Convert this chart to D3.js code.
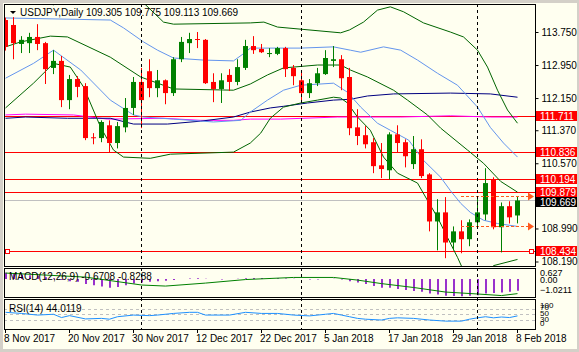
<!DOCTYPE html>
<html>
<head>
<meta charset="utf-8">
<script src="https://cdn.jsdelivr.net/npm/d3@7"></script>
<style>
html, body { margin: 0; padding: 0; background: #d4d0c8; }
svg { display: block; font-family: "Liberation Sans", Arial, sans-serif; font-size: 10px; }
</style>
</head>
<body>
<div id="container"></div>
<script>
// --- data ---
const symbol = "USDJPY,Daily";
const dateTicks = [0, 8, 16, 24, 32, 40, 48, 56, 64];
const dateLabels = ["8 Nov 2017", "20 Nov 2017", "30 Nov 2017", "12 Dec 2017", "22 Dec 2017",
                    "5 Jan 2018", "17 Jan 2018", "29 Jan 2018", "8 Feb 2018"];

const open  = [114.04,113.92,113.46,113.48,113.63,113.48,112.88,113.05,112.10,112.61,
               112.44,111.20,111.18,111.49,111.06,111.44,111.91,112.54,112.80,112.39,
               112.58,112.27,113.09,113.48,113.58,113.56,112.54,112.37,112.71,112.54,
               112.88,113.41,113.34,113.22,113.22,113.36,112.88,112.58,112.27,112.51,
               112.73,113.05,113.09,112.66,111.44,111.25,111.08,110.52,110.40,111.27,
               111.08,110.55,110.91,110.30,109.16,109.38,108.65,108.92,108.73,109.14,
               109.33,110.18,109.02,109.53,109.305];
const high  = [114.10,114.11,113.65,113.73,113.94,113.51,113.31,113.17,112.71,112.68,
               112.51,111.30,111.61,111.61,111.57,112.15,112.66,112.88,113.09,112.83,
               112.60,113.14,113.63,113.73,113.75,113.58,112.75,112.75,112.85,113.09,
               113.56,113.65,113.46,113.36,113.39,113.39,112.95,112.80,112.61,112.88,
               113.31,113.41,113.19,112.88,111.88,111.47,111.18,111.06,111.32,111.49,
               111.15,111.23,111.15,110.33,109.70,109.75,109.04,109.19,109.21,109.75,
               110.45,110.23,109.62,109.65,109.775];
const low   = [113.30,113.09,113.24,113.24,113.31,112.49,112.73,111.93,111.88,112.17,
               111.13,111.03,111.08,110.84,110.93,111.32,111.74,111.42,112.17,112.17,
               112.00,112.20,113.02,113.24,113.36,112.49,112.05,112.03,112.32,112.46,
               112.83,113.22,113.24,113.14,113.19,112.66,112.46,112.03,112.15,112.44,
               112.71,112.90,112.34,111.25,111.01,110.93,110.33,110.21,110.18,110.84,
               110.47,110.43,110.21,108.92,108.46,108.27,108.46,108.39,108.56,109.04,
               109.19,108.97,108.41,109.11,109.113];
const close = [113.39,113.48,113.56,113.63,113.46,112.85,113.05,112.10,112.61,112.42,
               111.18,111.18,111.57,111.06,111.47,111.91,112.54,112.10,112.39,112.58,
               112.27,113.09,113.51,113.58,113.56,112.51,112.37,112.58,112.54,112.90,
               113.41,113.31,113.26,113.24,113.36,112.85,112.68,112.27,112.51,112.75,
               113.12,113.09,112.63,111.42,111.23,111.03,110.50,110.43,111.27,111.06,
               110.74,110.91,110.26,109.16,109.38,108.65,108.92,108.73,109.14,109.38,
               110.09,109.02,109.53,109.26,109.669];

const separators = [17, 37, 59];
const priceTicks = [113.75, 112.95, 112.15, 111.37, 110.57, 108.99, 108.19];
const redLevels = [111.711, 110.836, 110.194, 109.879, 108.434];
const bidLevel = 109.669;
const arrowLevels = [109.775, 109.06];
const arrowStart = 57;

// indicator lines as [bar, price] points
const bbGreenUpper = [[0,114.65],[6,114.41],[10,114.72],[15,114.65],[17.5,114.41],[19.75,113.99],[21,113.94],
  [30.6,113.97],[32.3,113.99],[34,113.87],[41.9,113.73],[43,113.80],[44.75,113.99],[46.5,114.28],[48.1,114.36],
  [49.75,114.24],[52.25,113.97],[55.6,113.75],[57.25,113.63],[59,113.31],[60.25,112.90],[61.5,112.34],
  [62.75,111.86],[64,111.54]];
const bbGreenMid = [[0,113.39],[1.9,113.51],[5.6,113.65],[7.75,113.63],[13.1,113.14],[16.9,112.66],[21,112.37],
  [28.5,112.34],[30.6,112.49],[32.75,112.71],[34.75,112.88],[39,112.95],[41.9,112.95],[43.1,112.83],[45.25,112.66],
  [48.5,112.34],[50.25,112.10],[52.75,111.74],[54.4,111.42],[57.75,110.89],[59.75,110.57],[61.9,110.13],[64,109.87]];
const bbGreenLower = [[0,111.91],[3.5,112.51],[6,112.99],[8.1,112.90],[9.75,112.42],[11.9,111.44],[13.5,110.89],
  [14.75,110.72],[18.1,110.69],[20.6,110.79],[28.5,110.84],[30.6,111.06],[31.9,111.30],[33.1,111.66],[34.75,111.93],
  [36.9,112.03],[39,112.10],[41,112.17],[41.9,112.15],[42.75,112.03],[44,111.69],[45.6,111.37],[47.25,110.72],
  [49,110.33],[51.5,110.09],[52.75,109.67],[54,109.26],[55.25,108.77],[56.5,108.29],[58.1,107.61],[59.75,107.73],
  [61,108.09],[64,108.24]];
const bbBlueUpper = [[0,114.09],[13.1,114.04],[14.75,113.85],[17.25,113.51],[19,113.31],[21,113.12],[24.75,113.07],
  [28.5,113.05],[30,113.26],[30.6,113.36],[36.9,113.36],[41,113.39],[43.1,113.31],[44.4,113.26],[47.25,113.39],
  [49.4,113.31],[51.5,113.07],[54,112.75],[56.5,112.46],[59,111.93],[60.6,111.44],[62.25,111.06],[64,110.72]];
const bbBlueLower = [[0,112.63],[3.5,112.99],[6,113.31],[9.4,112.83],[13.1,112.10],[16,111.74],[17.25,111.69],
  [21,111.64],[26,111.57],[29.4,111.61],[30.6,111.81],[32.75,112.10],[34.75,112.34],[36.9,112.46],[41,112.51],
  [42.75,112.29],[44.4,111.93],[46.5,111.54],[48.1,111.37],[50.4,111.13],[52.25,110.64],[54.4,110.23],
  [55.6,109.91],[56.9,109.60],[58.1,109.38],[59.75,109.19],[61.5,109.11],[64,109.04]];
const maNavy = [[0,111.66],[2.5,111.69],[7.75,111.66],[13.1,111.66],[16,111.52],[20.25,111.52],[24.4,111.59],
  [28.5,111.69],[30.6,111.81],[33.1,111.91],[34.75,111.95],[37.75,112.03],[41,112.10],[43.1,112.12],
  [45.25,112.20],[48.5,112.25],[55.6,112.27],[60.6,112.25],[64,112.17]];
const maMagenta = [[0,111.74],[2.5,111.76],[8.5,111.74],[12.75,111.64],[19.75,111.66],[24.4,111.61],
  [28.5,111.61],[30.6,111.64],[34.4,111.64],[41.5,111.69],[49.4,111.69],[55.6,111.72],[60.6,111.69],[64,111.69]];

const macdHist = [0.35,0.30,0.25,0.22,0.18,0.10,0.05,-0.05,-0.12,-0.15,
                  -0.28,-0.35,-0.42,-0.50,-0.45,-0.35,-0.25,-0.20,-0.15,-0.12,
                  -0.10,-0.05,0.00,0.03,0.05,0.02,0.00,-0.02,0.00,0.02,
                  0.05,0.06,0.06,0.05,0.05,0.03,0.02,0.00,-0.02,-0.02,
                  0.00,0.02,-0.02,-0.12,-0.20,-0.28,-0.40,-0.50,-0.50,-0.56,
                  -0.63,-0.68,-0.72,-0.82,-0.88,-0.95,-0.96,-0.98,-0.95,-0.92,
                  -0.82,-0.80,-0.76,-0.72,-0.6708];
const macdSignal = [[0,0.34],[10,0.11],[17,-0.34],[20,-0.40],[25,-0.23],[30,-0.03],[36,0.09],[41,0.09],
  [44,-0.06],[47,-0.26],[51,-0.48],[55,-0.74],[59,-0.85],[62,-0.94],[64,-0.8288]];
const macdAxis = [0.627, 0, -1.0211];

const rsi = [[0,57],[2,53],[4,47],[6,50],[7,38],[8,45],[10,33],[12,35],[13,32],[14,41],[16,47],[18,45],
  [19,47],[21,53],[23,57],[24,57],[25,47],[28,47],[30,57],[32,53],[34,53],[36,47],[38,44],[40,50],[41,53],
  [42,47],[43,41],[44,35],[45,32],[47,29],[48,35],[49,37],[51,35],[53,29],[55,25],[57,25],[58,32],[59,37],
  [60,41],[61,37],[62,40],[63,38],[64,44.0119]];
const rsiLevels = [70, 50, 30];
const rsiAxis = [100, 70, 50, 30, 0];

// --- layout ---
const W = 579, H = 352;
const L = 4, R = 535;
const main = {top: 4, bottom: 266};
const pMacd = {top: 268, bottom: 297};
const pRsi = {top: 299, bottom: 329};

const svg = d3.select("#container").append("svg")
    .attr("width", W).attr("height", H);

svg.append("rect").attr("width", W).attr("height", H).attr("fill", "#d4d0c8");
svg.append("rect").attr("x", 3).attr("y", 3).attr("width", W - 5).attr("height", H - 6).attr("fill", "#fffff0");

const x = d3.scaleLinear().domain([0, 64]).range([5, 517]);
const y = d3.scaleLinear().domain([108.19, 113.75]).range([261.5, 32]);
const yM = d3.scaleLinear().domain([-1.0211, 0.627]).range([pMacd.bottom, pMacd.top]);
const yR = d3.scaleLinear().domain([0, 100]).range([328, 300.5]);

const px = v => Math.round(v) + 0.5;

function addClip(id, p) {
    svg.append("clipPath").attr("id", id)
        .append("rect").attr("x", L + 1).attr("y", p.top + 1)
        .attr("width", R - L - 1).attr("height", p.bottom - p.top - 1);
}
addClip("clipMain", main);
addClip("clipMacd", pMacd);
addClip("clipRsi", pRsi);

const gMain = svg.append("g").attr("clip-path", "url(#clipMain)");

// horizontal levels
gMain.selectAll(".lvl").data(redLevels).join("line")
    .attr("x1", L).attr("x2", R)
    .attr("y1", d => px(y(d))).attr("y2", d => px(y(d)))
    .attr("stroke", "#ff0000").attr("stroke-width", 1);

gMain.append("line")
    .attr("x1", L).attr("x2", R)
    .attr("y1", px(y(bidLevel))).attr("y2", px(y(bidLevel)))
    .attr("stroke", "#c0c0c0");

// indicator lines
function addLine(g, data, col, sc) {
    g.append("path")
        .datum(data)
        .attr("fill", "none")
        .attr("stroke", col)
        .attr("stroke-width", 1)
        .attr("d", d3.line().x(d => x(d[0]) + 0.5).y(d => sc(d[1])));
}
addLine(gMain, maMagenta, "#ff00ff", y);
addLine(gMain, maNavy, "#000080", y);
addLine(gMain, bbBlueUpper, "#6495ed", y);
addLine(gMain, bbBlueLower, "#6495ed", y);
addLine(gMain, bbGreenUpper, "#006400", y);
addLine(gMain, bbGreenMid, "#006400", y);
addLine(gMain, bbGreenLower, "#006400", y);

// candles
const bars = d3.range(open.length);
const col = i => close[i] >= open[i] ? "#008000" : "#ff0000";

gMain.selectAll(".wick").data(bars).join("line")
    .attr("x1", i => x(i) + 0.5).attr("x2", i => x(i) + 0.5)
    .attr("y1", i => y(high[i])).attr("y2", i => y(low[i]))
    .attr("stroke", col);

gMain.selectAll(".body").data(bars).join("rect")
    .attr("x", i => x(i) - 2)
    .attr("width", 5)
    .attr("y", i => Math.min(y(open[i]), y(close[i])))
    .attr("height", i => Math.max(1, Math.abs(y(open[i]) - y(close[i]))))
    .attr("fill", col);

// high / low arrows
const arrowCol = "#ff5a1e";
gMain.selectAll(".arr").data(arrowLevels).join("line")
    .attr("x1", x(arrowStart)).attr("x2", R - 6)
    .attr("y1", d => px(y(d))).attr("y2", d => px(y(d)))
    .attr("stroke", arrowCol).attr("stroke-dasharray", "3,2");
gMain.selectAll(".arrHead").data(arrowLevels).join("path")
    .attr("d", d => `M${R - 7},${px(y(d)) - 4}L${R - 1},${px(y(d))}L${R - 7},${px(y(d)) + 4}Z`)
    .attr("fill", arrowCol);

// small handles on the lowest level
const lowLvl = redLevels[redLevels.length - 1];
[L + 3, R - 4].forEach(hx => {
    svg.append("rect")
        .attr("x", hx - 1.5).attr("y", px(y(lowLvl)) - 2)
        .attr("width", 4).attr("height", 4)
        .attr("fill", "#ffffff").attr("stroke", "#ff0000");
});

// MACD
const gMacd = svg.append("g").attr("clip-path", "url(#clipMacd)");
gMacd.selectAll(".hist").data(bars).join("line")
    .attr("x1", i => x(i) + 1).attr("x2", i => x(i) + 1)
    .attr("y1", yM(0)).attr("y2", i => yM(macdHist[i]))
    .attr("stroke", "#9932cc").attr("stroke-width", 2);
addLine(gMacd, macdSignal, "#008000", yM);

// RSI
const gRsi = svg.append("g").attr("clip-path", "url(#clipRsi)");
gRsi.selectAll(".rl").data(rsiLevels).join("line")
    .attr("x1", L).attr("x2", R)
    .attr("y1", d => px(yR(d))).attr("y2", d => px(yR(d)))
    .attr("stroke", "#c0c0c0").attr("stroke-dasharray", "3,3");
addLine(gRsi, rsi, "#1e90ff", yR);

// period separators
svg.selectAll(".sep").data(separators).join("line")
    .attr("x1", i => x(i) + 0.5).attr("x2", i => x(i) + 0.5)
    .attr("y1", main.top).attr("y2", pRsi.bottom)
    .attr("stroke", "#000").attr("stroke-dasharray", "3,3");

// panel frames
[main, pMacd, pRsi].forEach(p => {
    svg.append("rect")
        .attr("x", L + 0.5).attr("y", p.top + 0.5)
        .attr("width", R - L).attr("height", p.bottom - p.top)
        .attr("fill", "none").attr("stroke", "#000");
});

// price axis
const yAxis = svg.append("g")
    .attr("transform", `translate(${R + 0.5},0)`)
    .call(d3.axisRight(y).tickValues(priceTicks).tickSize(3).tickPadding(3).tickFormat(d3.format(".3f")));
yAxis.select(".domain").remove();
yAxis.selectAll("text").attr("font-size", 10).attr("font-family", "Liberation Sans, Arial, sans-serif").attr("fill", "#000");

// level price tags (bid tag pushed just below the tag above it)
const tags = redLevels.map(v => ({v: v, bg: "#ff0000", cy: Math.round(y(v))}))
    .concat([{v: bidLevel, bg: "#000000", cy: Math.round(y(bidLevel)) + 2}]);
const tag = svg.selectAll(".tag").data(tags).join("g")
    .attr("transform", d => `translate(536,${d.cy})`);
tag.append("rect").attr("x", 0).attr("y", -5).attr("width", 41).attr("height", 10).attr("fill", d => d.bg);
tag.append("text").attr("x", 4).attr("y", 4).attr("fill", "#fff").text(d => d3.format(".3f")(d.v));

// MACD / RSI scale labels (crowded, like the terminal draws them)
svg.selectAll(".ml").data(macdAxis).join("text")
    .attr("x", 540).attr("font-size", 9)
    .attr("y", (d, i) => yM(d) + [8, 4, -4][i])
    .text(d => d === 0 ? "0.00" : d3.format(".4~f")(d));
svg.selectAll(".rla").data(rsiAxis).join("text")
    .attr("x", 540).attr("font-size", 8)
    .attr("y", (d, i) => yR(d) + [7, 1, 2, 2, -2][i])
    .text(d => d);

// time axis
svg.selectAll(".tk").data(dateTicks).join("line")
    .attr("x1", i => x(i) + 0.5).attr("x2", i => x(i) + 0.5)
    .attr("y1", pRsi.bottom).attr("y2", pRsi.bottom + 4)
    .attr("stroke", "#000");
svg.selectAll(".dl").data(dateTicks).join("text")
    .attr("x", i => x(i) - 1).attr("y", 342)
    .text((i, k) => dateLabels[k]);

// titles
svg.append("path").attr("d", "M10,11L16,11L13,14Z").attr("fill", "#000");
const last = open.length - 1;
svg.append("text").attr("x", 20).attr("y", 16)
    .text(`${symbol}  ${[open[last], high[last], low[last], close[last]].map(d3.format(".3f")).join(" ")}`);
svg.append("text").attr("x", 9).attr("y", 280)
    .text(`MACD(12,26,9) ${macdHist[last].toFixed(4)} ${macdSignal[macdSignal.length - 1][1].toFixed(4)}`);
svg.append("text").attr("x", 9).attr("y", 312)
    .text(`RSI(14) ${rsi[rsi.length - 1][1].toFixed(4)}`);
</script>
</body>
</html>
